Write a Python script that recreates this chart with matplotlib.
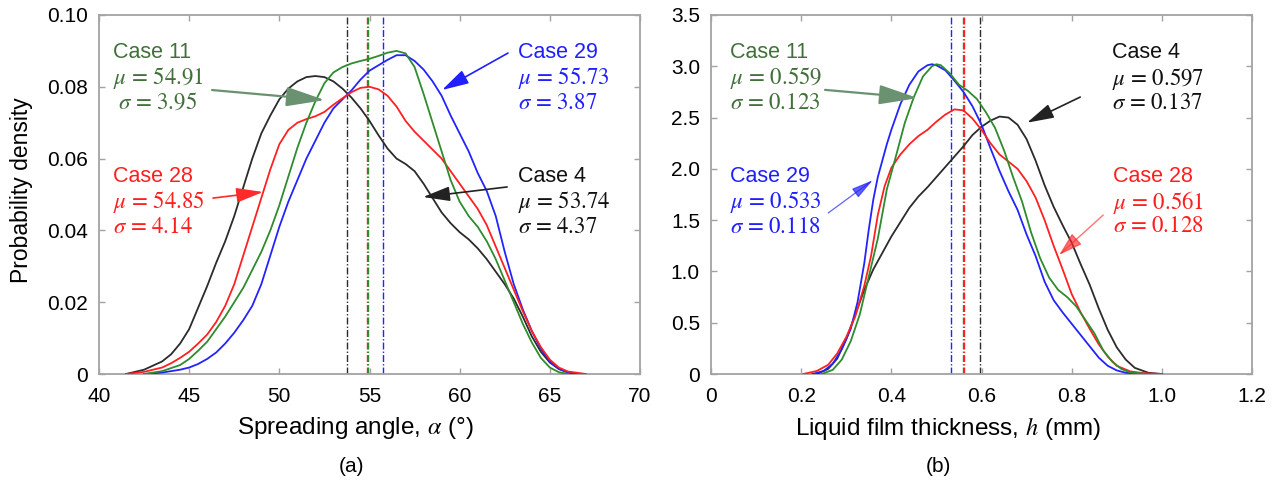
import matplotlib
matplotlib.use("Agg")
import matplotlib.pyplot as plt
from matplotlib.ticker import FixedLocator, FixedFormatter

plt.rcParams['font.family'] = ['Liberation Sans', 'DejaVu Sans']
plt.rcParams['mathtext.fontset'] = 'stix'

# ---------------- (a) spreading angle distributions ----------------
angle_case4 = [41.5, 42.5, 43.5, 44.0, 44.5, 45.0, 45.5, 46.0, 46.5, 47.0, 47.5, 48.0, 48.5, 49.0,
               49.5, 50.0, 50.5, 51.0, 51.5, 52.0, 52.5, 53.0, 53.5, 54.0, 54.5, 55.0, 55.5, 56.0,
               56.5, 57.0, 57.5, 58.0, 58.5, 59.0, 59.5, 60.0, 60.5, 61.0, 61.5, 62.0, 62.5, 63.0,
               63.5, 64.0, 64.5, 65.0, 65.5, 66.0, 66.5]
dens_a_case4 = [0, 0.0012, 0.0035, 0.0055, 0.0085, 0.0125, 0.0185, 0.0245, 0.0310, 0.0370, 0.0440,
                0.0520, 0.0600, 0.0670, 0.0720, 0.0765, 0.0795, 0.0815, 0.0827, 0.0830, 0.0827,
                0.0815, 0.0795, 0.0770, 0.0740, 0.0705, 0.0665, 0.0628, 0.0600, 0.0585, 0.0565,
                0.0530, 0.0490, 0.0450, 0.0420, 0.0395, 0.0375, 0.0350, 0.0320, 0.0285, 0.0250,
                0.0210, 0.0160, 0.0105, 0.0062, 0.0032, 0.0014, 0.0005, 0]

angle_case11 = [42.5, 43.5, 44.5, 45.0, 45.5, 46.0, 46.5, 47.0, 47.5, 48.0, 48.5, 49.0, 49.5, 50.0,
                50.5, 51.0, 51.5, 52.0, 52.5, 53.0, 53.5, 54.0, 54.5, 55.0, 55.5, 56.0, 56.5, 57.0,
                57.5, 58.0, 58.5, 59.0, 59.5, 60.0, 60.5, 61.0, 61.5, 62.0, 62.5, 63.0, 63.5, 64.0,
                64.5, 65.0, 65.5, 66.0]
dens_a_case11 = [0, 0.0008, 0.0025, 0.0042, 0.0065, 0.0090, 0.0125, 0.0160, 0.0200, 0.0240, 0.0290,
                 0.0340, 0.0400, 0.0470, 0.0550, 0.0630, 0.0700, 0.0760, 0.0810, 0.0840, 0.0855,
                 0.0865, 0.0872, 0.0878, 0.0886, 0.0895, 0.0900, 0.0893, 0.0855, 0.0780, 0.0700,
                 0.0620, 0.0540, 0.0480, 0.0440, 0.0410, 0.0370, 0.0320, 0.0260, 0.0200, 0.0140,
                 0.0088, 0.0045, 0.0018, 0.0005, 0]

angle_case28 = [41.5, 42.5, 43.5, 44.0, 44.5, 45.0, 45.5, 46.0, 46.5, 47.0, 47.5, 48.0, 48.5, 49.0,
                49.5, 50.0, 50.5, 51.0, 51.5, 52.0, 52.5, 53.0, 53.5, 54.0, 54.5, 55.0, 55.5, 56.0,
                56.5, 57.0, 57.5, 58.0, 58.5, 59.0, 59.5, 60.0, 60.5, 61.0, 61.5, 62.0, 62.5, 63.0,
                63.5, 64.0, 64.5, 65.0, 65.5, 66.0, 67.0]
dens_a_case28 = [0, 0.0006, 0.0018, 0.0030, 0.0045, 0.0062, 0.0085, 0.0110, 0.0145, 0.0190, 0.0250,
                 0.0330, 0.0410, 0.0490, 0.0570, 0.0640, 0.0680, 0.0700, 0.0710, 0.0718, 0.0730,
                 0.0750, 0.0768, 0.0785, 0.0797, 0.0800, 0.0793, 0.0775, 0.0745, 0.0705, 0.0675,
                 0.0650, 0.0625, 0.0600, 0.0565, 0.0530, 0.0495, 0.0460, 0.0415, 0.0355, 0.0295,
                 0.0235, 0.0175, 0.0120, 0.0075, 0.0040, 0.0018, 0.0007, 0]

angle_case29 = [42.5, 43.5, 44.5, 45.0, 45.5, 46.0, 46.5, 47.0, 47.5, 48.0, 48.5, 49.0, 49.5, 50.0,
                50.5, 51.0, 51.5, 52.0, 52.5, 53.0, 53.5, 54.0, 54.5, 55.0, 55.5, 56.0, 56.5, 57.0,
                57.5, 58.0, 58.5, 59.0, 59.5, 60.0, 60.5, 61.0, 61.5, 62.0, 62.5, 63.0, 63.5, 64.0,
                64.5, 65.0, 65.5, 66.0, 66.5]
dens_a_case29 = [0, 0.0004, 0.0012, 0.0018, 0.0028, 0.0042, 0.0060, 0.0085, 0.0115, 0.0150, 0.0190,
                 0.0250, 0.0330, 0.0410, 0.0480, 0.0540, 0.0600, 0.0650, 0.0700, 0.0740, 0.0765,
                 0.0790, 0.0820, 0.0845, 0.0860, 0.0875, 0.0888, 0.0888, 0.0872, 0.0848, 0.0815,
                 0.0775, 0.0720, 0.0670, 0.0620, 0.0560, 0.0510, 0.0440, 0.0340, 0.0250, 0.0180,
                 0.0120, 0.0070, 0.0035, 0.0014, 0.0004, 0]

# ---------------- (b) liquid film thickness distributions ----------------
thick_case4 = [0.235, 0.26, 0.28, 0.30, 0.32, 0.34, 0.36, 0.38, 0.40, 0.42, 0.44, 0.46, 0.48, 0.50,
               0.52, 0.54, 0.56, 0.58, 0.60, 0.62, 0.64, 0.66, 0.68, 0.70, 0.72, 0.74, 0.76, 0.78,
               0.80, 0.82, 0.84, 0.86, 0.88, 0.90, 0.92, 0.94, 0.97, 1.0]
dens_b_case4 = [0, 0.05, 0.15, 0.34, 0.58, 0.82, 1.02, 1.18, 1.34, 1.48, 1.62, 1.73, 1.82, 1.92,
                2.02, 2.12, 2.22, 2.33, 2.41, 2.47, 2.51, 2.50, 2.43, 2.29, 2.08, 1.84, 1.63, 1.45,
                1.28, 1.07, 0.87, 0.64, 0.43, 0.26, 0.14, 0.06, 0.012, 0]

thick_case11 = [0.245, 0.27, 0.29, 0.31, 0.33, 0.35, 0.37, 0.39, 0.41, 0.43, 0.45, 0.47, 0.49, 0.50,
                0.51, 0.53, 0.55, 0.57, 0.59, 0.61, 0.63, 0.65, 0.67, 0.69, 0.71, 0.73, 0.75, 0.77,
                0.79, 0.81, 0.83, 0.85, 0.87, 0.89, 0.91, 0.93, 0.97]
dens_b_case11 = [0, 0.04, 0.14, 0.32, 0.58, 0.95, 1.32, 1.80, 2.12, 2.45, 2.70, 2.90, 3.00, 3.02,
                 3.01, 2.93, 2.82, 2.76, 2.68, 2.55, 2.40, 2.18, 1.92, 1.68, 1.38, 1.13, 0.94, 0.82,
                 0.75, 0.66, 0.53, 0.40, 0.23, 0.12, 0.05, 0.015, 0]

thick_case28 = [0.205, 0.235, 0.26, 0.28, 0.30, 0.32, 0.34, 0.355, 0.37, 0.385, 0.40, 0.42, 0.44,
                0.46, 0.48, 0.50, 0.52, 0.54, 0.56, 0.58, 0.60, 0.62, 0.64, 0.66, 0.68, 0.70, 0.72,
                0.74, 0.76, 0.78, 0.80, 0.82, 0.84, 0.86, 0.88, 0.90, 0.93, 0.96, 1.0]
dens_b_case28 = [0, 0.03, 0.09, 0.20, 0.36, 0.56, 0.86, 1.15, 1.55, 1.83, 2.01, 2.14, 2.24, 2.32,
                 2.38, 2.46, 2.53, 2.58, 2.57, 2.49, 2.38, 2.25, 2.14, 2.07, 2.00, 1.88, 1.72, 1.50,
                 1.25, 1.02, 0.78, 0.60, 0.44, 0.29, 0.17, 0.08, 0.025, 0.008, 0]

thick_case29 = [0.225, 0.25, 0.27, 0.29, 0.31, 0.325, 0.34, 0.35, 0.36, 0.37, 0.38, 0.39, 0.40,
                0.42, 0.44, 0.46, 0.48, 0.49, 0.50, 0.52, 0.54, 0.56, 0.58, 0.60, 0.62, 0.64, 0.66,
                0.68, 0.70, 0.72, 0.74, 0.76, 0.78, 0.80, 0.82, 0.84, 0.86, 0.88, 0.90, 0.92, 0.95]
dens_b_case29 = [0, 0.03, 0.10, 0.24, 0.44, 0.70, 1.08, 1.41, 1.70, 1.92, 2.08, 2.24, 2.38,
                 2.63, 2.82, 2.95, 3.01, 3.02, 3.01, 2.96, 2.86, 2.75, 2.61, 2.43, 2.20, 1.98, 1.78,
                 1.60, 1.36, 1.15, 0.90, 0.72, 0.60, 0.49, 0.38, 0.27, 0.16, 0.08, 0.035, 0.012, 0]

# summary statistics (mean, std)
stats_a = {"Case 4": (53.74, 4.37), "Case 11": (54.91, 3.95),
           "Case 28": (54.85, 4.14), "Case 29": (55.73, 3.87)}
stats_b = {"Case 4": (0.597, 0.137), "Case 11": (0.559, 0.123),
           "Case 28": (0.561, 0.128), "Case 29": (0.533, 0.118)}

curve_colors = {"Case 4": "#2b2b2b", "Case 11": "#2e8b2e", "Case 28": "#ff2020", "Case 29": "#2323ff"}
text_colors = {"Case 4": "#111111", "Case 11": "#41703a", "Case 28": "#ff1f1f", "Case 29": "#1f1fff"}
arrow_colors = {"Case 4": "#222222", "Case 11": "#6b9270", "Case 28": "#ff2a2a", "Case 29": "#1f1fff"}

W, H = 1279, 487
fig = plt.figure(figsize=(W / 100, H / 100), dpi=100)
ax1 = fig.add_axes([99 / W, 1 - 374 / H, 541 / W, 359 / H])
ax2 = fig.add_axes([711 / W, 1 - 374 / H, 541 / W, 359 / H])

spine_grey = "#a3a3a3"
for ax in (ax1, ax2):
    for s in ax.spines.values():
        s.set_color(spine_grey)
        s.set_linewidth(1.3)
    ax.tick_params(direction="in", length=4, width=1.0, color=spine_grey,
                   top=True, right=True, labelsize=15, labelcolor="black")
    ax.tick_params(axis="x", pad=9)
    ax.tick_params(axis="y", pad=8)

# ---- panel (a)
series_a = [("Case 4", angle_case4, dens_a_case4), ("Case 29", angle_case29, dens_a_case29),
            ("Case 28", angle_case28, dens_a_case28), ("Case 11", angle_case11, dens_a_case11)]
for name, xs, ys in series_a:
    ax1.plot(xs, ys, color=curve_colors[name], lw=1.3, zorder=3)
for name in ["Case 4", "Case 28", "Case 11", "Case 29"]:
    ax1.axvline(stats_a[name][0], color=curve_colors[name], lw=1.0,
                ls=(0, (5, 1.5, 1, 1.5)), zorder=2)

ax1.set_xlim(40, 70)
ax1.set_ylim(0, 0.10)
ax1.xaxis.set_major_locator(FixedLocator([40, 45, 50, 55, 60, 65, 70]))
ax1.yaxis.set_major_locator(FixedLocator([0, 0.02, 0.04, 0.06, 0.08, 0.10]))
ax1.yaxis.set_major_formatter(FixedFormatter(["0", "0.02", "0.04", "0.06", "0.08", "0.10"]))

# ---- panel (b)
series_b = [("Case 4", thick_case4, dens_b_case4), ("Case 29", thick_case29, dens_b_case29),
            ("Case 28", thick_case28, dens_b_case28), ("Case 11", thick_case11, dens_b_case11)]
for name, xs, ys in series_b:
    ax2.plot(xs, ys, color=curve_colors[name], lw=1.3, zorder=3)
for name in ["Case 29", "Case 11", "Case 28", "Case 4"]:
    ax2.axvline(stats_b[name][0], color=curve_colors[name], lw=1.0,
                ls=(0, (5, 1.5, 1, 1.5)), zorder=2)

ax2.set_xlim(0, 1.2)
ax2.set_ylim(0, 3.5)
ax2.xaxis.set_major_locator(FixedLocator([0, 0.2, 0.4, 0.6, 0.8, 1.0, 1.2]))
ax2.xaxis.set_major_formatter(FixedFormatter(["0", "0.2", "0.4", "0.6", "0.8", "1.0", "1.2"]))
ax2.yaxis.set_major_locator(FixedLocator([0, 0.5, 1.0, 1.5, 2.0, 2.5, 3.0, 3.5]))
ax2.yaxis.set_major_formatter(FixedFormatter(["0", "0.5", "1.0", "1.5", "2.0", "2.5", "3.0", "3.5"]))


def px(x, y):
    """Figure-pixel position -> figure fraction."""
    return x / W, 1 - y / H


def label_block(name, stats, fmt, x, ys, indent=(0, 0, 0)):
    mu, sd = stats[name]
    col = text_colors[name]
    fig.text(*px(x + indent[0], ys[0]), name, color=col, fontsize=15.5, va="center", ha="left")
    fig.text(*px(x + indent[1], ys[1]), r"$\mu$ = " + fmt.format(mu), color=col, fontsize=16.5,
             va="center", ha="left", math_fontfamily="stix", family="STIXGeneral")
    fig.text(*px(x + indent[2], ys[2]), r"$\sigma$ = " + fmt.format(sd), color=col, fontsize=16.5,
             va="center", ha="left", math_fontfamily="stix", family="STIXGeneral")


def arrow(ax, name, start, tip, head=(1.1, 0.3), lw=1.2, alpha=1.0):
    ax.annotate("", xy=tip, xytext=start,
                arrowprops=dict(arrowstyle=f"-|>,head_length={head[0]},head_width={head[1]}",
                                color=arrow_colors[name], lw=lw, alpha=alpha,
                                mutation_scale=15, shrinkA=0, shrinkB=0), zorder=5)


# annotations, panel (a)
label_block("Case 11", stats_a, "{:.2f}", 113, (53, 78, 103), indent=(0, 0, 5))
label_block("Case 28", stats_a, "{:.2f}", 113, (177, 202, 227))
label_block("Case 29", stats_a, "{:.2f}", 518, (53, 78, 103))
label_block("Case 4", stats_a, "{:.2f}", 518, (177, 202, 227))
arrow(ax1, "Case 11", (46.27, 0.0791), (52.53, 0.0763), head=(1.6, 0.4), lw=1.6)
arrow(ax1, "Case 28", (46.32, 0.0490), (49.10, 0.0507))
arrow(ax1, "Case 29", (62.68, 0.0894), (59.02, 0.0791))
arrow(ax1, "Case 4", (62.63, 0.0521), (57.97, 0.0493))

# annotations, panel (b)
label_block("Case 11", stats_b, "{:.3f}", 730, (53, 78, 103))
label_block("Case 29", stats_b, "{:.3f}", 730, (177, 202, 227))
label_block("Case 4", stats_b, "{:.3f}", 1112, (53, 79, 103))
label_block("Case 28", stats_b, "{:.3f}", 1113, (177, 202, 226))
arrow(ax2, "Case 11", (0.253, 2.77), (0.459, 2.69), head=(1.6, 0.4), lw=1.6)
arrow(ax2, "Case 29", (0.260, 1.57), (0.359, 1.89), head=(0.9, 0.22), lw=0.9, alpha=0.7)
arrow(ax2, "Case 4", (0.819, 2.70), (0.701, 2.45))
arrow(ax2, "Case 28", (0.870, 1.55), (0.772, 1.16), head=(1.0, 0.3), lw=1.0, alpha=0.65)

# axis titles and panel captions
fig.text(*px(22, 190), "Probability density", rotation=90, fontsize=16.5, ha="center", va="center")
fig.text(*px(355, 428), r"Spreading angle, $\alpha$ (°)", fontsize=17.5, ha="center", va="center")
fig.text(*px(948, 428), r"Liquid film thickness, $h$ (mm)", fontsize=17.5, ha="center", va="center")
fig.text(*px(351, 466), "(a)", fontsize=15, ha="center", va="center")
fig.text(*px(938, 466), "(b)", fontsize=15, ha="center", va="center")

fig.savefig("out.png", dpi=100)
